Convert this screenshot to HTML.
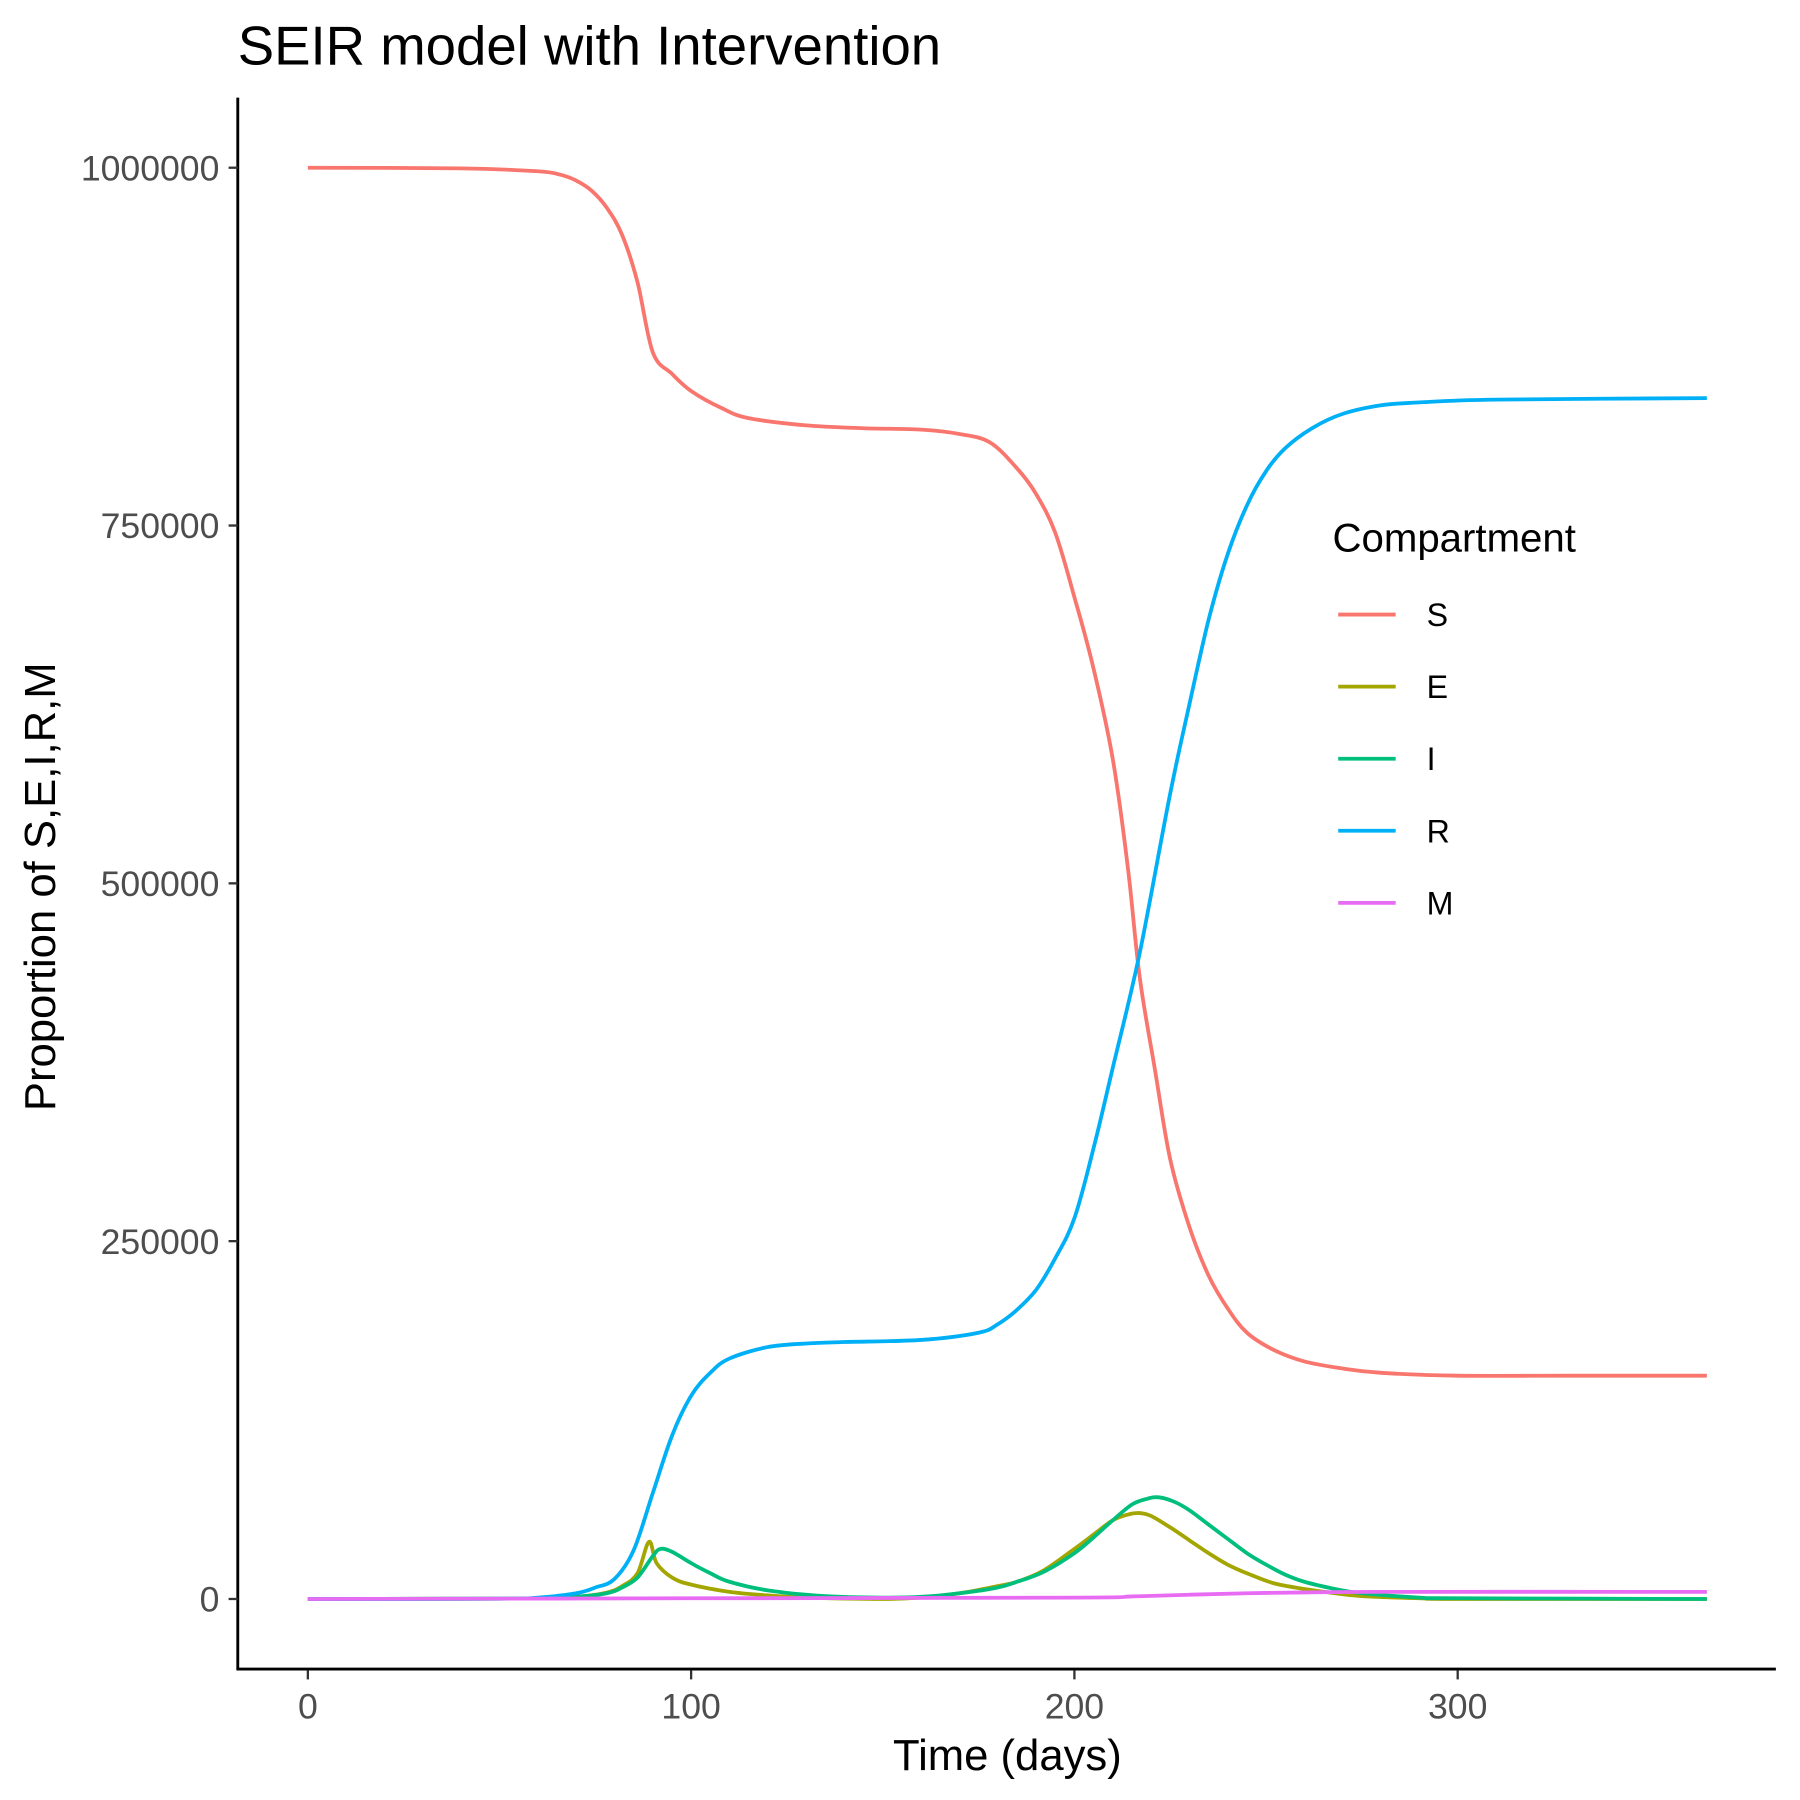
<!DOCTYPE html>
<html><head><meta charset="utf-8"><style>
html,body{margin:0;padding:0;background:#fff;}
svg{display:block;font-family:"Liberation Sans",Arial,sans-serif;}
</style></head><body>
<svg id="chart" width="1800" height="1800" viewBox="0 0 1567 1567" xmlns="http://www.w3.org/2000/svg">
<rect width="1567" height="1567" fill="#fff"/>
<text x="207" y="56" font-size="47.5" fill="#000">SEIR model with Intervention</text>
<g id="plot"></g>
<line x1="207" y1="85" x2="207" y2="1454" stroke="#000" stroke-width="2.5"/>
<line x1="206" y1="1453" x2="1546" y2="1453" stroke="#000" stroke-width="2.5"/>
<text x="877" y="1541" font-size="38" text-anchor="middle">Time (days)</text>
<text transform="translate(48,772) rotate(-90)" font-size="38" text-anchor="middle">Proportion of S,E,I,R,M</text>
<g id="legend">
<text x="1160" y="480" font-size="35">Compartment</text>
</g>
</svg>
<script>
const tickDays=[0,100,200,300];
const tickVals=[0,250000,500000,750000,1000000];
const seriesNames=["S","E","I","R","M"];
const seriesColors=["#F8766D","#A3A500","#00BF7D","#00B0F6","#E76BF3"];
const tS=[0,40,60,66,70,74,78,82,86,90,95,100,108,115,130,145,160,170,178,185,190,195,200,205,210,214,217,221,225,230,235,240,245,252,260,270,280,300,330,365];
const vS=[1000000,999500,997500,995000,991000,984000,972000,953000,920000,871000,856000,844000,832000,825000,820000,818000,817000,814000,808000,790000,772000,745000,700000,650000,587000,510000,435000,370000,307000,260000,226000,203000,186000,174000,166000,161000,158000,156000,156000,156000];
const tE=[0,60,70,78,82,86,89,91,95,100,110,120,130,150,160,170,180,185,192,200,205,210,214,217,220,225,230,235,240,245,252,260,268,275,290,300,365];
const vE=[0,300,1500,4500,9000,18000,40000,25000,15000,10000,5000,2500,1000,0,1000,4000,9000,12000,20000,35000,45000,55000,59000,60000,58000,50000,41000,32000,24000,18000,11000,7000,4000,2000,500,0,0];
const tI=[0,60,70,78,82,86,90,92,95,100,105,110,120,135,150,160,170,180,185,192,200,205,210,215,219,222,226,230,235,240,245,250,255,260,268,275,290,300,365];
const vI=[0,300,1500,4000,8000,15000,30000,35000,33000,25000,18000,12000,6000,2000,1000,1500,4000,8000,12000,19000,32000,43000,55000,66000,70000,71000,68000,62000,52000,42000,32000,24000,17000,12000,7000,4000,1000,500,0];
const tR=[0,50,60,70,75,80,85,90,95,100,105,110,120,130,140,160,175,180,185,190,195,200,205,210,217,225,230,235,240,245,250,255,262,270,280,290,310,365];
const vR=[0,200,1000,4000,8000,14000,34000,74000,114000,142000,158000,168000,176000,178500,179500,181000,186000,192000,202000,216000,238000,266000,315000,371000,451000,563000,625000,684000,730000,764000,788000,804000,818000,828000,834000,836000,838000,839000];
const tM=[0,100,200,215,230,245,260,280,365];
const vM=[0,500,1000,1800,3000,4000,4600,5000,5000];
const seriesT=[tS,tE,tI,tR,tM];
const seriesV=[vS,vE,vI,vR,vM];

const NS="http://www.w3.org/2000/svg";
function xs(t){return 268+(t-0)*(1269-268)/300;}
function ys(v){return 1392-v*(1392-146)/1000000;}
function smoothPath(P){
  let d='M'+P[0][0].toFixed(1)+','+P[0][1].toFixed(1);
  for(let i=0;i<P.length-1;i++){
    const p0=P[Math.max(0,i-1)],p1=P[i],p2=P[i+1],p3=P[Math.min(P.length-1,i+2)];
    const k=1/6;
    const c1=[p1[0]+(p2[0]-p0[0])*k,p1[1]+(p2[1]-p0[1])*k];
    const c2=[p2[0]-(p3[0]-p1[0])*k,p2[1]-(p3[1]-p1[1])*k];
    d+=' C'+c1[0].toFixed(1)+','+c1[1].toFixed(1)+' '+c2[0].toFixed(1)+','+c2[1].toFixed(1)+' '+p2[0].toFixed(1)+','+p2[1].toFixed(1);
  }
  return d;
}
const svg=document.getElementById('chart');
const plot=document.getElementById('plot');
tickDays.forEach(d=>{
  const l=document.createElementNS(NS,'line');
  
  
  l.setAttribute('x1',xs(d));l.setAttribute('x2',xs(d));l.setAttribute('y1',1454);l.setAttribute('y2',1462);
  l.setAttribute('stroke','#333');l.setAttribute('stroke-width','2');svg.appendChild(l);
  const t=document.createElementNS(NS,'text');
  
  
  t.setAttribute('x',xs(d));t.setAttribute('y',1496);t.setAttribute('font-size','31');
  t.setAttribute('text-anchor','middle');t.setAttribute('fill','#4d4d4d');t.textContent=d;svg.appendChild(t);
});
tickVals.forEach(v=>{
  const l=document.createElementNS(NS,'line');
  
  
  l.setAttribute('x1',199);l.setAttribute('x2',207);l.setAttribute('y1',ys(v));l.setAttribute('y2',ys(v));
  l.setAttribute('stroke','#333');l.setAttribute('stroke-width','2');svg.appendChild(l);
  const t=document.createElementNS(NS,'text');
  
  
  t.setAttribute('x',191);t.setAttribute('y',ys(v)+11);t.setAttribute('font-size','31');
  t.setAttribute('text-anchor','end');t.setAttribute('fill','#4d4d4d');t.textContent=v;svg.appendChild(t);
});
seriesNames.forEach((n,i)=>{
  const P=seriesT[i].map((t,j)=>[xs(t),ys(seriesV[i][j])]);
  const p=document.createElementNS(NS,'path');
  
  
  p.setAttribute('d',smoothPath(P));p.setAttribute('fill','none');
  p.setAttribute('stroke',seriesColors[i]);p.setAttribute('stroke-width','3.3');
  p.setAttribute('stroke-linejoin','round');
  plot.appendChild(p);
});
const leg=document.getElementById('legend');
seriesNames.forEach((n,i)=>{
  const y=535+i*62.75;
  const l=document.createElementNS(NS,'line');
  
  
  l.setAttribute('x1',1165);l.setAttribute('x2',1215);l.setAttribute('y1',y);l.setAttribute('y2',y);
  l.setAttribute('stroke',seriesColors[i]);l.setAttribute('stroke-width','3.3');leg.appendChild(l);
  const t=document.createElementNS(NS,'text');
  
  
  t.setAttribute('x',1242);t.setAttribute('y',y+10);t.setAttribute('font-size','28');t.textContent=n;leg.appendChild(t);
});
</script>
</body></html>
